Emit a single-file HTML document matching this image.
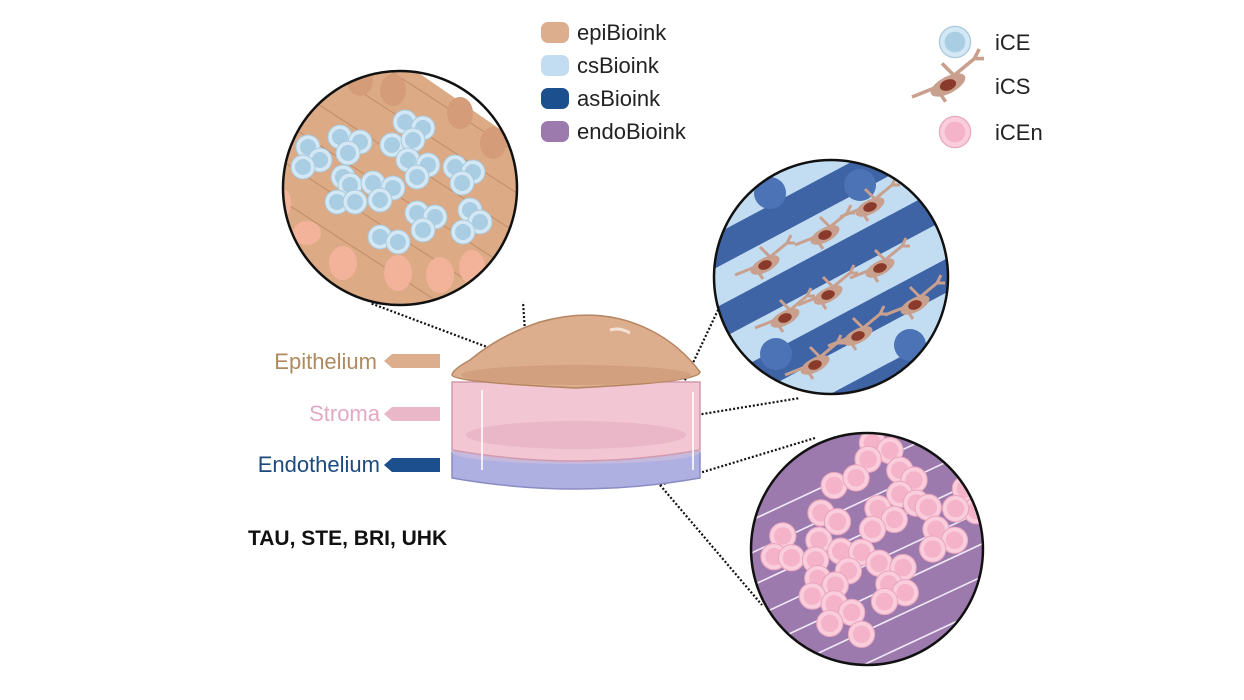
<!DOCTYPE html>
<html><head><meta charset="utf-8"><style>
html,body{margin:0;padding:0;background:#fff;width:1244px;height:700px;overflow:hidden}
svg{display:block}
text{font-family:"Liberation Sans",sans-serif}
</style></head><body>
<svg width="1244" height="700" viewBox="0 0 1244 700" xmlns="http://www.w3.org/2000/svg">
<defs>
<clipPath id="c1"><circle cx="400" cy="188" r="117"/></clipPath>
<clipPath id="c2"><circle cx="831" cy="277" r="117"/></clipPath>
<clipPath id="c3"><circle cx="862" cy="560" r="106"/></clipPath>
<g id="ce"><circle r="12" fill="#d3e8f4" stroke="#a9c9dc" stroke-width="1"/><circle r="8" fill="#a9cde2"/></g>
<g id="cen"><circle r="12" fill="#f9cddb" stroke="#eaa6bf" stroke-width="1"/><circle r="8" fill="#f5b3c9"/></g>
<g id="cs"><path d="M-30,10 L-10,2 L5,-8 L22,-22 L26,-30 M22,-22 L30,-22 M5,-8 L-5,-18 M-10,2 L-2,14" stroke="#c9a08e" stroke-width="3" fill="none"/><ellipse rx="16" ry="7" transform="rotate(-28)" fill="#c9a08e"/><ellipse rx="7" ry="4.5" transform="rotate(-20)" fill="#8a3a2a"/></g>
</defs>

<!-- dotted connectors -->
<g stroke="#111" stroke-width="2.2" stroke-dasharray="2,2" fill="none">
<line x1="527" y1="362" x2="523" y2="302"/>
<line x1="527" y1="362" x2="370" y2="303"/>
<line x1="666" y1="420" x2="718" y2="310"/>
<line x1="666" y1="420" x2="800" y2="398"/>
<line x1="660" y1="485" x2="815" y2="438"/>
<line x1="660" y1="485" x2="762" y2="605"/>
</g>

<!-- circle 1 -->
<g clip-path="url(#c1)">
<rect x="270" y="60" width="260" height="260" fill="#dcaa85"/>
<polygon points="270,60 390,60 330,95 270,120" fill="#fff"/>
<polygon points="400,60 530,60 530,150" fill="#fff"/>
<polygon points="270,300 290,290 330,300 350,320 270,320" fill="#fff"/>
<g stroke="#c08d6a" stroke-width="1">
<line x1="250" y1="20" x2="560" y2="221"/><line x1="250" y1="60" x2="560" y2="261"/><line x1="250" y1="100" x2="560" y2="301"/>
<line x1="250" y1="140" x2="560" y2="341"/><line x1="250" y1="180" x2="560" y2="381"/><line x1="250" y1="-20" x2="560" y2="181"/>
</g>
<g fill="#d49c78"><ellipse cx="393" cy="90" rx="13" ry="16"/><ellipse cx="460" cy="113" rx="13" ry="16"/><ellipse cx="493" cy="143" rx="13" ry="16"/><ellipse cx="360" cy="80" rx="13" ry="16"/></g>
<g fill="#f2b39a"><ellipse cx="307" cy="233" rx="14" ry="12"/><ellipse cx="343" cy="263" rx="14" ry="17"/><ellipse cx="398" cy="273" rx="14" ry="18"/><ellipse cx="440" cy="275" rx="14" ry="18"/><ellipse cx="472" cy="267" rx="13" ry="17"/><ellipse cx="283" cy="203" rx="8" ry="14"/></g>
<use href="#ce" x="308" y="147"/><use href="#ce" x="320" y="160"/><use href="#ce" x="303" y="167"/>
<use href="#ce" x="340" y="137"/><use href="#ce" x="360" y="142"/><use href="#ce" x="348" y="153"/>
<use href="#ce" x="343" y="177"/><use href="#ce" x="350" y="185"/><use href="#ce" x="337" y="202"/><use href="#ce" x="355" y="202"/>
<use href="#ce" x="373" y="183"/><use href="#ce" x="393" y="188"/><use href="#ce" x="380" y="200"/>
<use href="#ce" x="405" y="122"/><use href="#ce" x="423" y="128"/><use href="#ce" x="392" y="145"/><use href="#ce" x="413" y="140"/>
<use href="#ce" x="408" y="160"/><use href="#ce" x="428" y="165"/><use href="#ce" x="417" y="177"/>
<use href="#ce" x="455" y="167"/><use href="#ce" x="473" y="172"/><use href="#ce" x="462" y="183"/>
<use href="#ce" x="417" y="213"/><use href="#ce" x="435" y="217"/><use href="#ce" x="423" y="230"/>
<use href="#ce" x="380" y="237"/><use href="#ce" x="398" y="242"/>
<use href="#ce" x="470" y="210"/><use href="#ce" x="480" y="222"/><use href="#ce" x="463" y="232"/>
</g>
<circle cx="400" cy="188" r="117" fill="none" stroke="#111" stroke-width="2.5"/>

<!-- circle 2 -->
<g clip-path="url(#c2)">
<rect x="700" y="150" width="270" height="270" fill="#fff"/>
<g fill="#c2ddf2">
<rect x="620" y="150" width="420" height="36" transform="rotate(-28 832 281)"/>
<rect x="620" y="215" width="420" height="36" transform="rotate(-28 832 281)"/>
<rect x="620" y="280" width="420" height="36" transform="rotate(-28 832 281)"/>
<rect x="620" y="345" width="420" height="36" transform="rotate(-28 832 281)"/>
</g>
<g fill="#3f64a6">
<rect x="620" y="185" width="420" height="30" transform="rotate(-28 832 281)"/>
<rect x="620" y="250" width="420" height="30" transform="rotate(-28 832 281)"/>
<rect x="620" y="315" width="420" height="30" transform="rotate(-28 832 281)"/>
<rect x="620" y="380" width="420" height="30" transform="rotate(-28 832 281)"/>
</g>
<ellipse cx="770" cy="193" rx="16" ry="16" fill="#4c73b5"/><ellipse cx="860" cy="185" rx="16" ry="16" fill="#4c73b5"/>
<ellipse cx="776" cy="354" rx="16" ry="16" fill="#4c73b5"/><ellipse cx="910" cy="345" rx="16" ry="16" fill="#4c73b5"/>
<use href="#cs" x="870" y="207"/><use href="#cs" x="825" y="235"/><use href="#cs" x="765" y="265"/>
<use href="#cs" x="880" y="268"/><use href="#cs" x="828" y="295"/><use href="#cs" x="785" y="318"/>
<use href="#cs" x="915" y="305"/><use href="#cs" x="858" y="336"/><use href="#cs" x="815" y="365"/>
</g>
<circle cx="831" cy="277" r="117" fill="none" stroke="#111" stroke-width="2.5"/>

<!-- circle 3 -->
<g transform="translate(867,549) scale(1.094) translate(-862,-560)">
<g clip-path="url(#c3)">
<rect x="740" y="440" width="245" height="245" fill="#9c7aae"/>
<polygon points="740,440 850,440 740,500" fill="#fff"/>
<polygon points="930,440 985,440 985,470" fill="#fff"/>
<polygon points="985,600 985,690 900,690" fill="#fff"/>
<g stroke="#f0e8f5" stroke-width="1.5">
<line x1="700" y1="560" x2="1000" y2="420"/><line x1="700" y1="590" x2="1000" y2="450"/><line x1="700" y1="620" x2="1000" y2="480"/>
<line x1="700" y1="650" x2="1000" y2="510"/><line x1="700" y1="680" x2="1000" y2="540"/><line x1="700" y1="710" x2="1000" y2="570"/>
<line x1="700" y1="740" x2="1000" y2="600"/><line x1="700" y1="770" x2="1000" y2="630"/>
</g>
<use href="#cen" x="867" y="463"/><use href="#cen" x="883" y="470"/><use href="#cen" x="863" y="478"/>
<use href="#cen" x="832" y="502"/><use href="#cen" x="852" y="495"/><use href="#cen" x="892" y="488"/><use href="#cen" x="905" y="497"/>
<use href="#cen" x="892" y="510"/><use href="#cen" x="907" y="518"/><use href="#cen" x="918" y="522"/>
<use href="#cen" x="952" y="505"/><use href="#cen" x="962" y="525"/><use href="#cen" x="943" y="523"/>
<use href="#cen" x="820" y="527"/><use href="#cen" x="835" y="535"/><use href="#cen" x="872" y="523"/><use href="#cen" x="887" y="533"/><use href="#cen" x="867" y="542"/>
<use href="#cen" x="925" y="542"/><use href="#cen" x="942" y="552"/><use href="#cen" x="922" y="560"/>
<use href="#cen" x="785" y="548"/><use href="#cen" x="777" y="567"/><use href="#cen" x="793" y="568"/>
<use href="#cen" x="818" y="552"/><use href="#cen" x="838" y="562"/><use href="#cen" x="857" y="563"/><use href="#cen" x="845" y="580"/><use href="#cen" x="815" y="570"/>
<use href="#cen" x="873" y="573"/><use href="#cen" x="895" y="577"/><use href="#cen" x="882" y="592"/><use href="#cen" x="897" y="600"/><use href="#cen" x="878" y="608"/>
<use href="#cen" x="817" y="587"/><use href="#cen" x="833" y="593"/><use href="#cen" x="812" y="603"/><use href="#cen" x="832" y="610"/>
<use href="#cen" x="848" y="618"/><use href="#cen" x="828" y="628"/><use href="#cen" x="857" y="638"/>
</g>
<circle cx="862" cy="560" r="106" fill="none" stroke="#111" stroke-width="2.3"/>
</g>

<!-- cornea model -->
<path d="M452,452 L452,478 Q576,500 700,478 L700,452 Z" fill="#aeb0e2" stroke="#8a8cc4" stroke-width="1.5"/>
<ellipse cx="576" cy="452" rx="124" ry="12" fill="#c5b9de"/>
<path d="M452,382 L452,450 Q576,472 700,450 L700,382 Z" fill="#f2c6d3" stroke="#d29aae" stroke-width="1.5"/>
<ellipse cx="576" cy="435" rx="110" ry="14" fill="#eab7c8"/>
<path d="M452,375 Q452,382 576,388 Q700,382 700,372 Q680,345 650,330 Q600,305 540,322 Q500,335 470,360 Q452,370 452,375 Z" fill="#dcae8d" stroke="#b68562" stroke-width="1.5"/>
<ellipse cx="576" cy="375" rx="115" ry="10" fill="#d2a07f"/>
<path d="M610,330 Q620,327 630,333" stroke="#f3e3d6" stroke-width="3" fill="none"/>
<line x1="482" y1="390" x2="482" y2="470" stroke="#fff" stroke-width="2" opacity=".8"/>
<line x1="693" y1="392" x2="693" y2="470" stroke="#fff" stroke-width="2" opacity=".8"/>

<!-- left labels -->
<text x="377" y="369" font-size="22" fill="#b08a5f" text-anchor="end">Epithelium</text>
<path d="M440,354 L392,354 L384,361 L392,368 L440,368 Z" fill="#dcae8d"/>
<text x="380" y="421" font-size="22" fill="#e2a9c1" text-anchor="end">Stroma</text>
<path d="M440,407 L392,407 L384,414 L392,421 L440,421 Z" fill="#eab7c8"/>
<text x="380" y="472" font-size="22" fill="#1c4a7d" text-anchor="end">Endothelium</text>
<path d="M440,458 L392,458 L384,465 L392,472 L440,472 Z" fill="#1b4f8d"/>
<text x="248" y="545" font-size="21" font-weight="bold" fill="#111">TAU, STE, BRI, UHK</text>

<!-- legend -->
<rect x="541" y="22" width="28" height="21" rx="7" fill="#dcae8d"/>
<text x="577" y="40" font-size="22" fill="#222">epiBioink</text>
<rect x="541" y="55" width="28" height="21" rx="7" fill="#c2ddf2"/>
<text x="577" y="73" font-size="22" fill="#222">csBioink</text>
<rect x="541" y="88" width="28" height="21" rx="7" fill="#1b4f8d"/>
<text x="577" y="106" font-size="22" fill="#222">asBioink</text>
<rect x="541" y="121" width="28" height="21" rx="7" fill="#9c7aae"/>
<text x="577" y="139" font-size="22" fill="#222">endoBioink</text>

<g transform="translate(955,42) scale(1.3)"><use href="#ce"/></g>
<text x="995" y="50" font-size="22" fill="#222">iCE</text>
<g transform="translate(948,85) scale(1.2)"><use href="#cs"/></g>
<text x="995" y="94" font-size="22" fill="#222">iCS</text>
<g transform="translate(955,132) scale(1.3)"><use href="#cen"/></g>
<text x="995" y="140" font-size="22" fill="#222">iCEn</text>
</svg>
</body></html>
